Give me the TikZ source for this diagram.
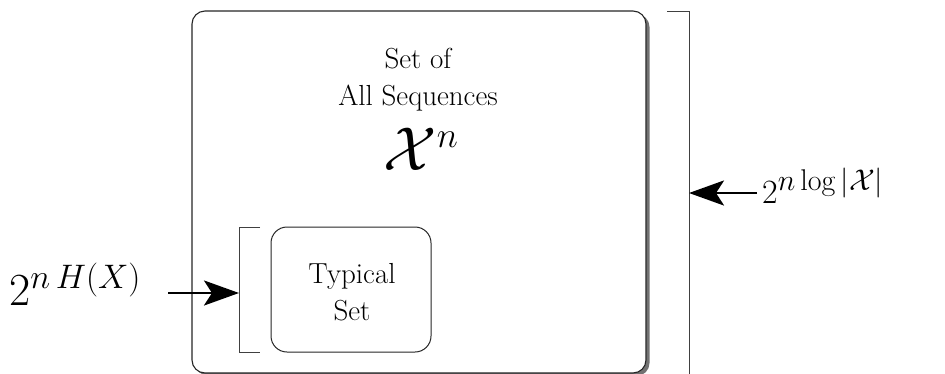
\RequirePackage{fix-cm}
\documentclass[tikz,border=0pt]{standalone}
\DeclareMathSizes{46}{46}{34}{26}
\DeclareMathSizes{34}{34}{30}{22}
\DeclareMathSizes{62}{62}{36}{28}
\usetikzlibrary{arrows.meta,shadows}
\begin{document}
\begin{tikzpicture}[x=1pt,y=-1pt,
  bigbox/.style={draw=black!85, line width=1.1pt, rounded corners=13pt, fill=white,
    drop shadow={shadow xshift=3.5pt, shadow yshift=-3pt, opacity=0.65, fill=black!85}},
  typbox/.style={draw=black!85, line width=1pt, rounded corners=16pt, fill=white},
  brk/.style={draw=black!75, line width=0.9pt},
  arr/.style={line width=2.8pt, -{Stealth[length=35pt,width=25pt,inset=8pt]}},
  lbl/.style={font=\fontsize{29}{37}\selectfont, align=center, inner sep=0pt},
]
\useasboundingbox (0,0) rectangle (945,373);
% big box
\node[bigbox, minimum width=454pt, minimum height=362pt, inner sep=0pt] (all) at (419,192) {};
\node[lbl] (t1) at (418,80) {Set of\\All Sequences};
\node[inner sep=0pt, anchor=base] (xn) at (421,170) {\fontsize{62}{66}\selectfont$\mathcal{X}^{n}$};
% typical set
\node[typbox, minimum width=160pt, minimum height=125pt, inner sep=0pt] (typ) at (351,289.5) {};
\node[lbl] (t2) at (352,292) {Typical\\Set};
% left bracket
\coordinate (lbt) at (260,227);
\coordinate (lbtl) at (239,227);
\coordinate (lbbl) at (239,352);
\coordinate (lbb) at (260,352);
\coordinate (lbm) at (239,293);
\draw[brk] (lbt) -- (lbtl) -- (lbbl) -- (lbb);
% right bracket
\coordinate (rbt) at (667,11);
\coordinate (rbtr) at (689,11);
\coordinate (rbbr) at (689,380);
\coordinate (rbm) at (689,193);
\draw[brk] (rbt) -- (rbtr) -- (rbbr);
% labels
\node[anchor=base west, inner sep=0pt] (lh) at (9,305) {\fontsize{46}{50}\selectfont$2^{n\,H(X)}$};
\node[anchor=base west, inner sep=0pt] (rh) at (762,203) {\fontsize{34}{40}\selectfont$2^{n\log|\mathcal{X}|}$};
\coordinate (la) at (168,293);
\coordinate (ra) at (757,193);
\draw[arr] (la) -- (lbm);
\draw[arr] (ra) -- (rbm);
\end{tikzpicture}
\end{document}
